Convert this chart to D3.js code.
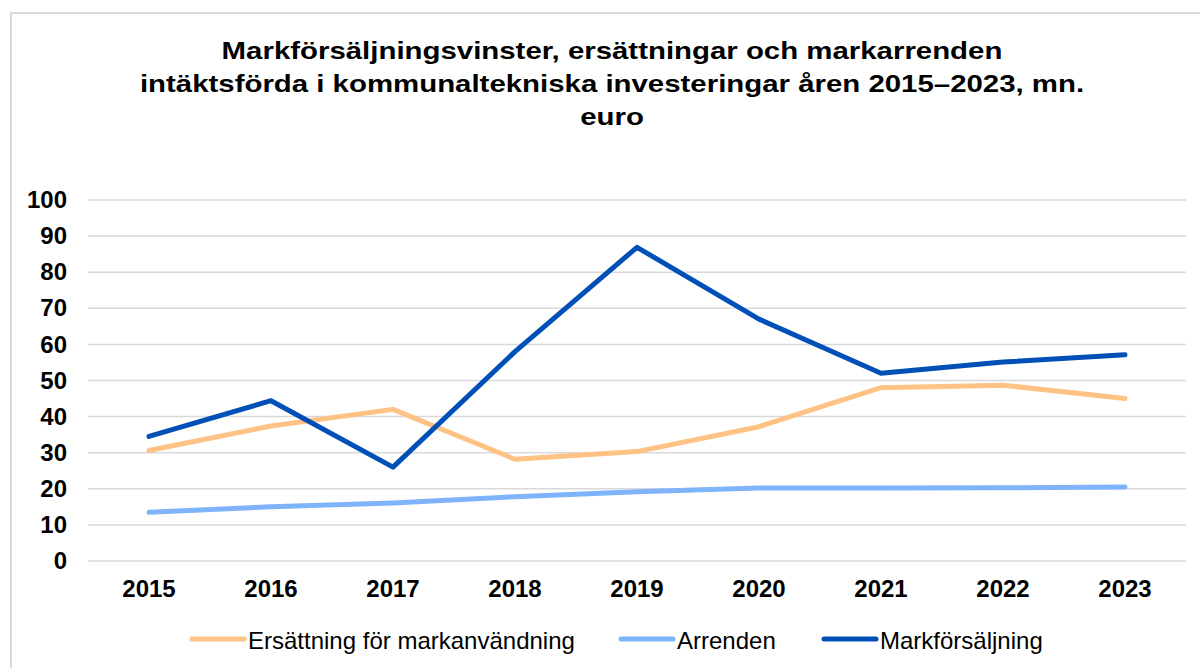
<!DOCTYPE html>
<html><head><meta charset="utf-8">
<script src="https://cdn.jsdelivr.net/npm/d3@7"></script>
<style>body{margin:0;background:#fff}svg{display:block;font-family:"Liberation Sans",Arial,sans-serif}</style>
</head><body><svg id="c" width="1200" height="668"></svg>
<script>
const years = ["2015","2016","2017","2018","2019","2020","2021","2022","2023"];
const ersattning = [30.6, 37.4, 42.0, 28.2, 30.3, 37.2, 48.0, 48.7, 45.0];
const arrenden = [13.5, 15.0, 16.1, 17.8, 19.2, 20.2, 20.2, 20.3, 20.5];
const markforsaljning = [34.5, 44.4, 26.0, 58.0, 86.9, 67.0, 52.0, 55.1, 57.1];
const yTicks = [0,10,20,30,40,50,60,70,80,90,100];
const seriesNames = ["Ersättning för markanvändning","Arrenden","Markförsäljning"];
const seriesColors = ["#FFC285","#7FB4FA","#0050B8"];
const titleLines = ["Markförsäljningsvinster, ersättningar och markarrenden",
  "intäktsförda i kommunaltekniska investeringar åren 2015–2023, mn.",
  "euro"];

const svg = d3.select("#c");
// border
svg.append("path").attr("d","M11,680V13H1210").attr("fill","none").attr("stroke","#D9D9D9").attr("stroke-width",2);

const x = d3.scaleBand().domain(years).range([88,1186]);
const y = d3.scaleLinear().domain([0,100]).range([561,200]);

// gridlines
svg.append("g").selectAll("line").data(yTicks).join("line")
  .attr("x1",88).attr("x2",1186).attr("y1",d=>y(d)).attr("y2",d=>y(d))
  .attr("stroke","#D9D9D9").attr("stroke-width",1.5);

// y axis
const ya = svg.append("g").attr("transform","translate(88,0)")
  .call(d3.axisLeft(y).tickValues(yTicks).tickSize(0).tickPadding(21));
ya.select(".domain").remove();
ya.selectAll("text").attr("font-size",24).attr("font-weight","bold").attr("fill","#000").attr("font-family","Liberation Sans, Arial");

// x axis
const xa = svg.append("g").attr("transform","translate(0,561)")
  .call(d3.axisBottom(x).tickSize(0).tickPadding(19));
xa.select(".domain").remove();
xa.selectAll("text").attr("font-size",24).attr("font-weight","bold").attr("fill","#000").attr("font-family","Liberation Sans, Arial");

// lines
const all = [ersattning, arrenden, markforsaljning];
const line = d3.line().x((d,i)=>x(years[i])+x.bandwidth()/2).y(d=>y(d));
svg.append("g").selectAll("path").data(all).join("path")
  .attr("d",line).attr("fill","none")
  .attr("stroke",(d,i)=>seriesColors[i]).attr("stroke-width",5)
  .attr("stroke-linecap","round").attr("stroke-linejoin","round");

// title
const tt = svg.append("text").attr("text-anchor","middle").attr("font-weight","bold").attr("font-size",24)
  .attr("transform","translate(612,0) scale(1.225,1)");
tt.selectAll("tspan").data(titleLines).join("tspan")
  .attr("x",0).attr("y",(d,i)=>59+i*33).text(d=>d);

// legend
const legX = [190, 619, 822];
const lg = svg.append("g").selectAll("g").data(seriesNames).join("g")
  .attr("transform",(d,i)=>`translate(${legX[i]},0)`);
lg.append("line").attr("x1",2).attr("x2",54).attr("y1",639).attr("y2",639)
  .attr("stroke",(d,i)=>seriesColors[i]).attr("stroke-width",5).attr("stroke-linecap","round");
lg.append("text").attr("x",58).attr("y",649).attr("font-size",24).attr("fill","#000").text(d=>d);
</script></body></html>
